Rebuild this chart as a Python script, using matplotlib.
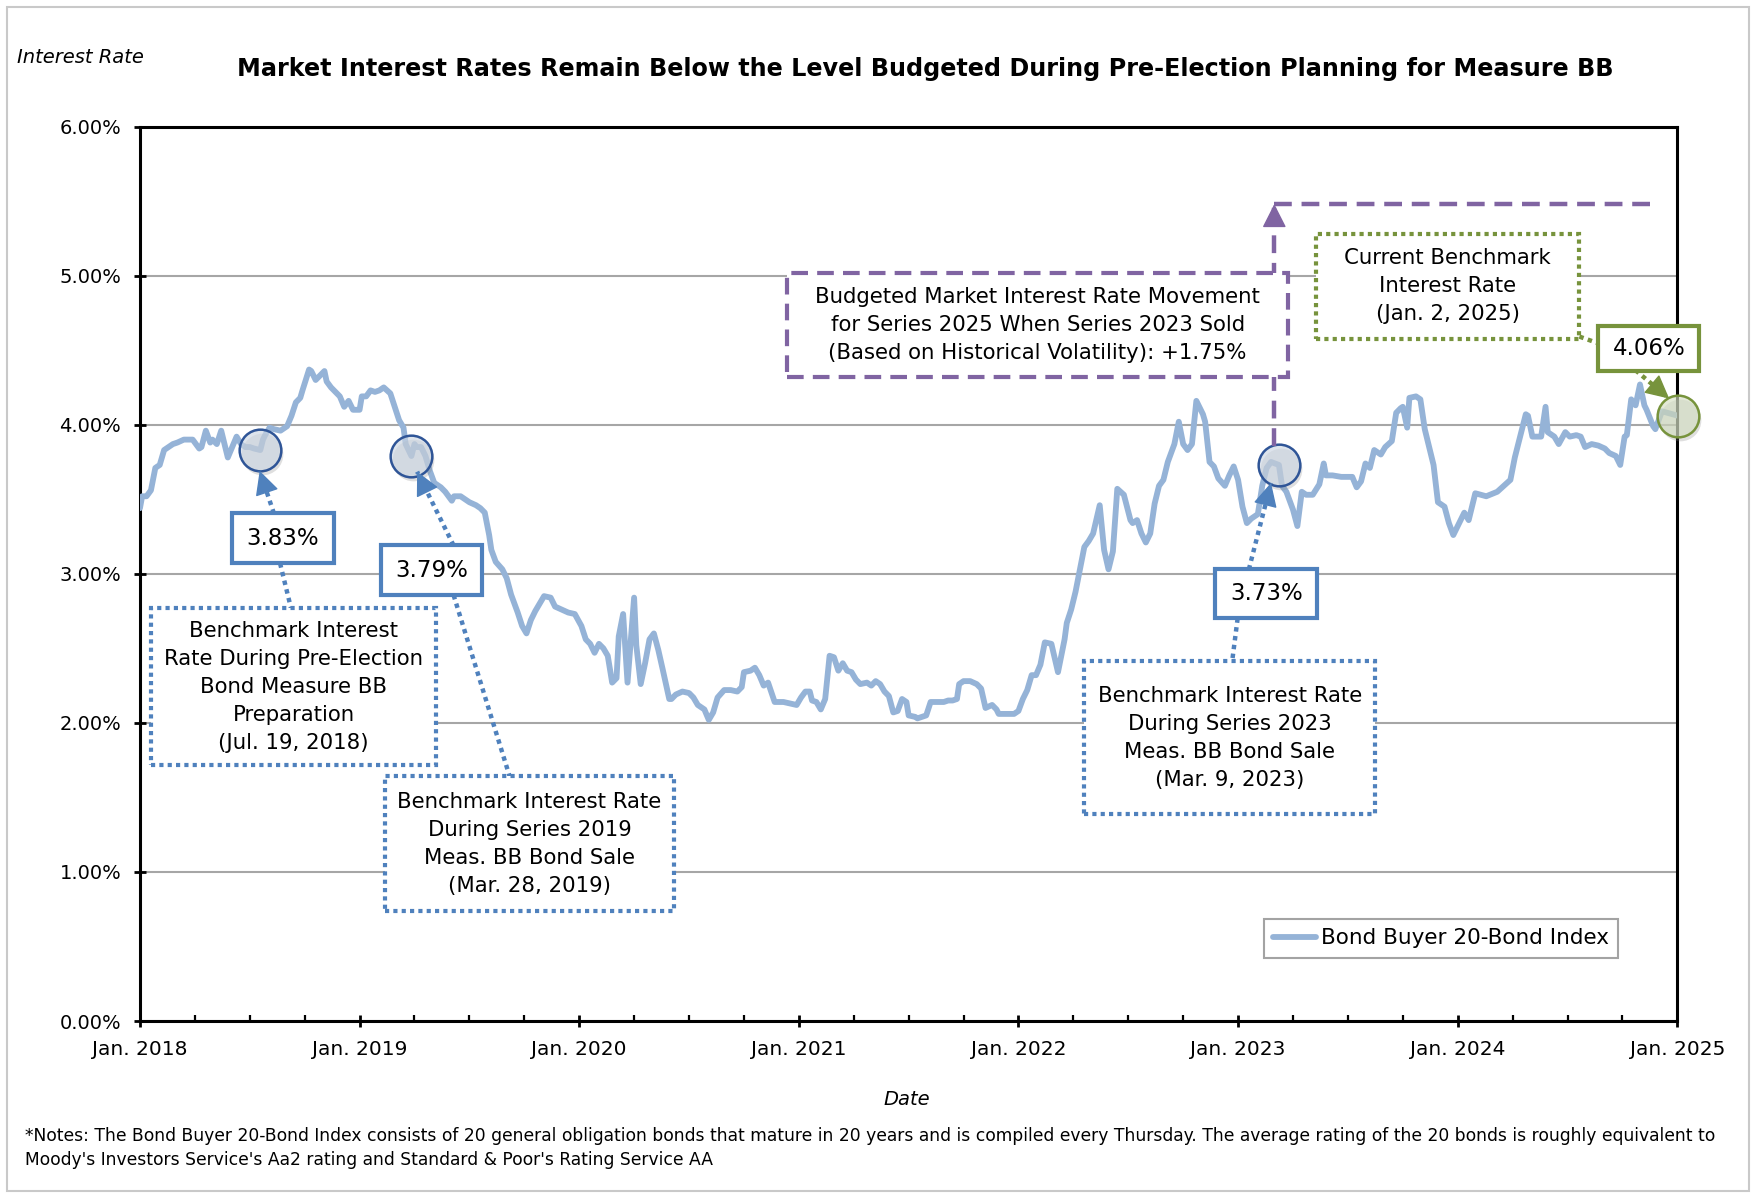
import numpy as np
import matplotlib
matplotlib.use("Agg")
import matplotlib.pyplot as plt
import matplotlib.transforms as mtransforms
from matplotlib.patches import Rectangle
from matplotlib.ticker import MultipleLocator

# Bond Buyer 20-Bond Index, weekly readings (decimal year, percent)
t18 = [2018.00, 2018.01, 2018.03, 2018.05, 2018.07, 2018.09, 2018.11, 2018.13, 2018.15, 2018.17,
       2018.20, 2018.22, 2018.24, 2018.27, 2018.28, 2018.30, 2018.32, 2018.33, 2018.35, 2018.37,
       2018.38, 2018.40, 2018.42, 2018.44, 2018.46, 2018.48, 2018.50, 2018.52, 2018.548, 2018.56,
       2018.57, 2018.59, 2018.61, 2018.64, 2018.67, 2018.69, 2018.71, 2018.73, 2018.74, 2018.77,
       2018.78, 2018.80, 2018.82, 2018.84, 2018.85, 2018.87, 2018.91, 2018.93, 2018.95, 2018.97]
r18 = [3.44, 3.52, 3.52, 3.56, 3.71, 3.73, 3.83, 3.85, 3.87, 3.88,
       3.90, 3.90, 3.90, 3.84, 3.85, 3.96, 3.88, 3.90, 3.87, 3.96,
       3.90, 3.78, 3.85, 3.92, 3.87, 3.85, 3.85, 3.84, 3.83, 3.90,
       3.93, 3.98, 3.97, 3.96, 3.99, 4.06, 4.15, 4.18, 4.23, 4.37,
       4.36, 4.30, 4.33, 4.36, 4.29, 4.25, 4.19, 4.12, 4.16, 4.10]

t19 = [2019.00, 2019.01, 2019.03, 2019.05, 2019.07, 2019.09, 2019.11, 2019.14, 2019.16, 2019.18,
       2019.20, 2019.21, 2019.236, 2019.25, 2019.26, 2019.28, 2019.30, 2019.32, 2019.34, 2019.37,
       2019.39, 2019.42, 2019.43, 2019.46, 2019.48, 2019.50, 2019.53, 2019.55, 2019.57, 2019.59,
       2019.60, 2019.62, 2019.65, 2019.67, 2019.69, 2019.72, 2019.74, 2019.76, 2019.78, 2019.80,
       2019.82, 2019.84, 2019.87, 2019.89, 2019.92, 2019.95, 2019.98]
r19 = [4.10, 4.19, 4.19, 4.23, 4.22, 4.23, 4.25, 4.21, 4.12, 4.03,
       3.98, 3.87, 3.79, 3.87, 3.85, 3.85, 3.79, 3.69, 3.61, 3.58,
       3.55, 3.49, 3.52, 3.52, 3.50, 3.48, 3.46, 3.44, 3.41, 3.26,
       3.16, 3.08, 3.03, 2.97, 2.86, 2.74, 2.65, 2.60, 2.69, 2.75,
       2.80, 2.85, 2.84, 2.78, 2.76, 2.74, 2.73]

t20 = [2020.01, 2020.03, 2020.05, 2020.07, 2020.09, 2020.11, 2020.13, 2020.15, 2020.17, 2020.18,
       2020.20, 2020.22, 2020.25, 2020.26, 2020.28, 2020.30, 2020.32, 2020.34, 2020.36, 2020.38,
       2020.41, 2020.42, 2020.44, 2020.47, 2020.50, 2020.52, 2020.54, 2020.57, 2020.59, 2020.61,
       2020.63, 2020.66, 2020.69, 2020.72, 2020.74, 2020.75, 2020.78, 2020.80, 2020.82, 2020.84,
       2020.86, 2020.89, 2020.93, 2020.96]
r20 = [2.65, 2.56, 2.53, 2.47, 2.53, 2.50, 2.45, 2.27, 2.30, 2.58,
       2.73, 2.27, 2.84, 2.52, 2.26, 2.40, 2.56, 2.60, 2.49, 2.36,
       2.16, 2.16, 2.19, 2.21, 2.20, 2.17, 2.12, 2.09, 2.02, 2.07,
       2.17, 2.22, 2.22, 2.21, 2.24, 2.34, 2.35, 2.37, 2.32, 2.25,
       2.27, 2.14, 2.14, 2.13]

t21 = [2020.99, 2021.01, 2021.03, 2021.05, 2021.06, 2021.08, 2021.10, 2021.12, 2021.14, 2021.16,
       2021.18, 2021.20, 2021.22, 2021.24, 2021.26, 2021.28, 2021.31, 2021.33, 2021.35, 2021.37,
       2021.39, 2021.41, 2021.43, 2021.45, 2021.47, 2021.49, 2021.50, 2021.53, 2021.54, 2021.56,
       2021.58, 2021.60, 2021.62, 2021.66, 2021.68, 2021.70, 2021.72, 2021.73, 2021.75, 2021.78,
       2021.81, 2021.83, 2021.85, 2021.88, 2021.90, 2021.91, 2021.94, 2021.98]
r21 = [2.12, 2.17, 2.21, 2.21, 2.15, 2.14, 2.09, 2.16, 2.45, 2.44,
       2.35, 2.40, 2.35, 2.34, 2.29, 2.26, 2.27, 2.25, 2.28, 2.26,
       2.21, 2.18, 2.07, 2.08, 2.16, 2.14, 2.05, 2.04, 2.03, 2.04,
       2.05, 2.14, 2.14, 2.14, 2.15, 2.15, 2.16, 2.26, 2.28, 2.28,
       2.26, 2.23, 2.10, 2.12, 2.09, 2.06, 2.06, 2.06]

t22 = [2022.00, 2022.02, 2022.04, 2022.06, 2022.08, 2022.10, 2022.12, 2022.15, 2022.18, 2022.21,
       2022.22, 2022.24, 2022.26, 2022.28, 2022.30, 2022.32, 2022.34, 2022.37, 2022.39, 2022.41,
       2022.43, 2022.45, 2022.48, 2022.51, 2022.52, 2022.54, 2022.56, 2022.58, 2022.60, 2022.62,
       2022.64, 2022.66, 2022.68, 2022.71, 2022.73, 2022.75, 2022.77, 2022.79, 2022.81, 2022.84,
       2022.85, 2022.87, 2022.89, 2022.91, 2022.94, 2022.96, 2022.98]
r22 = [2.08, 2.16, 2.22, 2.32, 2.32, 2.39, 2.54, 2.53, 2.34, 2.56,
       2.67, 2.76, 2.88, 3.03, 3.18, 3.22, 3.27, 3.46, 3.16, 3.03,
       3.15, 3.57, 3.53, 3.36, 3.34, 3.36, 3.27, 3.21, 3.27, 3.47,
       3.59, 3.63, 3.75, 3.87, 4.02, 3.87, 3.83, 3.87, 4.16, 4.07,
       4.02, 3.75, 3.72, 3.64, 3.59, 3.66, 3.72]

t23 = [2023.00, 2023.02, 2023.04, 2023.06, 2023.09, 2023.11, 2023.13, 2023.15, 2023.186, 2023.20,
       2023.22, 2023.25, 2023.27, 2023.29, 2023.31, 2023.34, 2023.37, 2023.39, 2023.40, 2023.43,
       2023.47, 2023.52, 2023.54, 2023.56, 2023.58, 2023.60, 2023.62, 2023.65, 2023.67, 2023.70,
       2023.72, 2023.74, 2023.75, 2023.77, 2023.78, 2023.81, 2023.83, 2023.85, 2023.87, 2023.89,
       2023.91, 2023.94, 2023.96, 2023.98]
r23 = [3.63, 3.45, 3.34, 3.37, 3.40, 3.59, 3.71, 3.75, 3.73, 3.59,
       3.55, 3.43, 3.32, 3.55, 3.53, 3.53, 3.60, 3.74, 3.66, 3.66,
       3.65, 3.65, 3.58, 3.62, 3.74, 3.71, 3.83, 3.80, 3.85, 3.89,
       4.08, 4.11, 4.12, 3.98, 4.18, 4.19, 4.17, 3.97, 3.85, 3.73,
       3.48, 3.45, 3.34, 3.26]

t24 = [2024.00, 2024.03, 2024.05, 2024.08, 2024.13, 2024.18, 2024.24, 2024.26, 2024.31, 2024.32,
       2024.34, 2024.38, 2024.40, 2024.41, 2024.44, 2024.46, 2024.49, 2024.51, 2024.54, 2024.56,
       2024.58, 2024.61, 2024.64, 2024.67, 2024.69, 2024.72, 2024.74, 2024.76, 2024.77, 2024.79,
       2024.81, 2024.83, 2024.85, 2024.86, 2024.89, 2024.90, 2024.93, 2025.003]
r24 = [3.32, 3.41, 3.36, 3.54, 3.52, 3.55, 3.63, 3.78, 4.07, 4.06,
       3.92, 3.92, 4.12, 3.95, 3.92, 3.87, 3.95, 3.92, 3.93, 3.92,
       3.85, 3.87, 3.86, 3.84, 3.81, 3.79, 3.73, 3.92, 3.93, 4.17,
       4.13, 4.27, 4.13, 4.10, 3.99, 3.97, 4.09, 4.06]

# benchmark dates called out on the chart
bench_dates = [2018.548, 2019.236, 2023.186, 2025.003]
bench_rates = [3.83, 3.79, 3.73, 4.06]
budget_move = 1.75

years = list(range(2018, 2026))
year_labels = [f"Jan. {y}" for y in years]
rate_ticks = [0, 1, 2, 3, 4, 5, 6]

t = np.concatenate([t18, t19, t20, t21, t22, t23, t24])
r = np.concatenate([r18, r19, r20, r21, r22, r23, r24])

LINE = "#95b3d7"
BLUE = "#4f81bd"
NAVY = "#2f5597"
PURPLE = "#8064a2"
GREEN = "#77933c"
DOTS = (0, (1, 1))
DASH = (0, (4, 2.2))

plt.rcParams["font.family"] = ["DejaVu Sans"]

fig = plt.figure(figsize=(17.56, 11.96), dpi=100)
ax = fig.add_axes([0.0797, 0.1463, 0.8755, 0.7479])

fig.add_artist(Rectangle((0.004, 0.004), 0.992, 0.990, transform=fig.transFigure,
                         fill=False, ec="#c9c9c9", lw=1.5))

ax.plot(t, r, color=LINE, lw=4.2, solid_joinstyle="round", solid_capstyle="round",
        zorder=3, label="Bond Buyer 20-Bond Index")

ax.set_xlim(2018, 2025)
ax.set_ylim(0, 6)
ax.set_yticks(rate_ticks)
ax.set_yticklabels([f"{v:.2f}%" for v in rate_ticks])
ax.set_xticks(years)
ax.set_xticklabels(year_labels)
ax.xaxis.set_minor_locator(MultipleLocator(0.25))
ax.yaxis.grid(True, color="#a6a6a6", lw=1.5)
ax.set_axisbelow(True)
for s in ax.spines.values():
    s.set_linewidth(2.2)
ax.tick_params(axis="y", direction="inout", length=9, width=2, labelsize=14, pad=9)
ax.tick_params(axis="x", which="major", direction="inout", length=9, width=2,
               labelsize=14.5, pad=9)
ax.tick_params(axis="x", which="minor", direction="in", length=4, width=1.6)

fig.text(0.527, 0.9423, "Market Interest Rates Remain Below the Level Budgeted During "
         "Pre-Election Planning for Measure BB", ha="center", va="center",
         fontsize=17.2, weight="bold")
fig.text(0.0097, 0.9523, "Interest Rate", style="italic", fontsize=14, va="center")
fig.text(0.5165, 0.0803, "Date", style="italic", fontsize=14, ha="center", va="center")
fig.text(0.0142, 0.0502, "*Notes: The Bond Buyer 20-Bond Index consists of 20 general obligation "
         "bonds that mature in 20 years and is compiled every Thursday. The average rating "
         "of the 20 bonds is roughly equivalent to", fontsize=12.3, va="center")
fig.text(0.0142, 0.0301, "Moody's Investors Service's Aa2 rating and Standard & Poor's "
         "Rating Service AA", fontsize=12.3, va="center")


def callout(x0, x1, y0, y1, text, color, ls, size, lw=3):
    ax.add_patch(Rectangle((x0, y0), x1 - x0, y1 - y0, facecolor="white", edgecolor=color,
                           lw=lw, ls=ls, zorder=6, clip_on=False))
    ax.text((x0 + x1) / 2, (y0 + y1) / 2, text, ha="center", va="center", fontsize=size,
            linespacing=1.5, zorder=7, clip_on=False)


def link(x0, y0, x1, y1, color, ls=DOTS):
    ax.plot([x0, x1], [y0, y1], color=color, lw=3.2, ls=ls, zorder=5, clip_on=False)


def arrow(x0, y0, x1, y1, color, ls=DOTS):
    # shaft in the callout's line style, solid triangular head at the tip
    link(x0, y0, x1, y1, color, ls)
    xs = x1 - 0.04 * (x1 - x0)
    ys = y1 - 0.04 * (y1 - y0)
    ax.annotate("", xy=(x1, y1), xytext=(xs, ys), zorder=5, annotation_clip=False,
                arrowprops=dict(arrowstyle="-|>,head_length=0.75,head_width=0.38",
                                color=color, lw=1, shrinkA=0, shrinkB=0,
                                mutation_scale=20))


def ring(x, y, face, edge):
    shadow = mtransforms.offset_copy(ax.transData, fig=fig, x=2, y=-4, units="dots")
    ax.scatter([x], [y], s=900, color="#808080", alpha=0.25, lw=0, transform=shadow,
               zorder=4, clip_on=False)
    ax.scatter([x], [y], s=900, facecolor=face, edgecolor=edge, lw=1.8, zorder=4.5,
               clip_on=False)


# circled benchmark readings
for d, v in zip(bench_dates[:3], bench_rates[:3]):
    ring(d, v, (0.80, 0.84, 0.89, 0.65), NAVY)
ring(bench_dates[3], bench_rates[3], (0.83, 0.87, 0.76, 0.65), GREEN)

# pre-election benchmark
arrow(2018.610, 3.405, 2018.545, 3.69, BLUE)
link(2018.638, 3.07, 2018.688, 2.768, BLUE)
callout(2018.419, 2018.884, 3.07, 3.405, f"{bench_rates[0]:.2f}%", BLUE, "-", 16.5)
callout(2018.05, 2019.348, 1.716, 2.768,
        "Benchmark Interest\nRate During Pre-Election\nBond Measure BB\nPreparation\n(Jul. 19, 2018)",
        BLUE, DOTS, 15.3)

# series 2019 sale
arrow(2019.428, 3.19, 2019.262, 3.685, BLUE)
link(2019.428, 2.857, 2019.683, 1.642, BLUE)
callout(2019.098, 2019.558, 2.855, 3.19, f"{bench_rates[1]:.2f}%", BLUE, "-", 16.5)
callout(2019.116, 2020.432, 0.737, 1.642,
        "Benchmark Interest Rate\nDuring Series 2019\nMeas. BB Bond Sale\n(Mar. 28, 2019)",
        BLUE, DOTS, 15.3)

# series 2023 sale
arrow(2023.049, 3.029, 2023.15, 3.61, BLUE)
link(2022.998, 2.701, 2022.973, 2.413, BLUE)
callout(2022.896, 2023.361, 2.701, 3.029, f"{bench_rates[2]:.2f}%", BLUE, "-", 16.5)
callout(2022.299, 2023.625, 1.387, 2.413,
        "Benchmark Interest Rate\nDuring Series 2023\nMeas. BB Bond Sale\n(Mar. 9, 2023)",
        BLUE, DOTS, 15.3)

# budgeted movement above the 2023 sale rate
budget_level = bench_rates[2] + budget_move
xb = 2023.165
arrow(xb, bench_rates[2] + 0.13, xb, budget_level, PURPLE, ls=DASH)
ax.plot([xb, 2024.91], [budget_level, budget_level], color=PURPLE, lw=3.2, ls=DASH, zorder=5)
callout(2020.947, 2023.228, 4.323, 5.02,
        "Budgeted Market Interest Rate Movement\nfor Series 2025 When Series 2023 Sold\n"
        f"(Based on Historical Volatility): +{budget_move:.2f}%", PURPLE, DASH, 15.3)

# current benchmark
link(2024.554, 4.591, 2024.64, 4.546, GREEN)
arrow(2024.809, 4.366, 2024.963, 4.175, GREEN)
callout(2023.356, 2024.554, 4.578, 5.282,
        "Current Benchmark\nInterest Rate\n(Jan. 2, 2025)", GREEN, DOTS, 15.3)
callout(2024.64, 2025.10, 4.363, 4.665, f"{bench_rates[3]:.2f}%", GREEN, "-", 16.5)

leg = ax.legend(loc="lower right", bbox_to_anchor=(0.9616, 0.0704), frameon=True,
                fancybox=False, edgecolor="#8c8c8c", fontsize=15.5, handlelength=2.0,
                handletextpad=0.2, borderpad=0.45, borderaxespad=0)
leg.get_frame().set_linewidth(1.5)

fig.savefig("out.png", dpi=100)
